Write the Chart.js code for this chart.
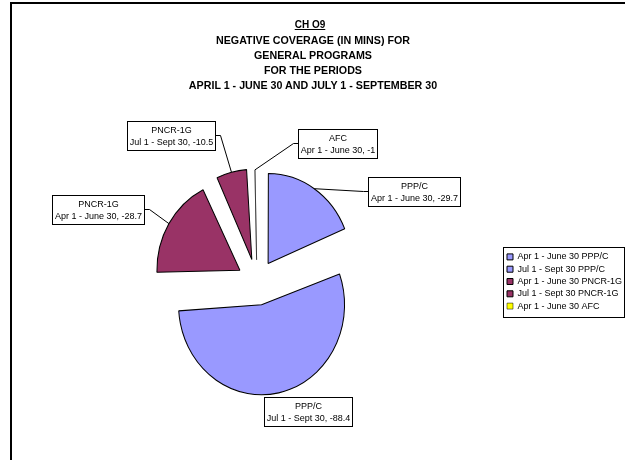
<!DOCTYPE html>
<html>
<head>
<meta charset="utf-8">
<title>CH O9</title>
<script src="https://cdn.jsdelivr.net/npm/chart.js@4.4.1/dist/chart.umd.min.js"></script>
<style>
  body { margin: 0; background: #fff; }
  #page { position: relative; width: 625px; height: 460px; overflow: hidden; }
  #page canvas { position: absolute; left: 0; top: 0; }
  .titre { position: absolute; text-align: center; color: #000;
           font-family: "Liberation Sans", Arial, sans-serif; font-weight: bold; white-space: nowrap; }
  #chId { left: 0; width: 620px; top: 18px; font-size: 10px; line-height: 13px; text-decoration: underline; }
  #sousTitre { left: 0; width: 626px; top: 32.5px; font-size: 10.7px; line-height: 15px; }
</style>
</head>
<body>
<div id="page">
  <canvas id="pieChart" width="625" height="460"></canvas>
  <div class="titre" id="chId"></div>
  <div class="titre" id="sousTitre"></div>
</div>
<script>
// values
const chartId = "CH O9";
const titleLines = [
  "NEGATIVE COVERAGE (IN MINS) FOR",
  "GENERAL PROGRAMS",
  "FOR THE PERIODS",
  "APRIL 1 - JUNE 30 AND JULY 1 - SEPTEMBER 30"
];
const programs = ["PPP/C", "PPP/C", "PNCR-1G", "PNCR-1G", "AFC"];
const periods = ["Apr 1 - June 30", "Jul 1 - Sept 30", "Apr 1 - June 30", "Jul 1 - Sept 30", "Apr 1 - June 30"];
const minutes = [-29.7, -88.4, -28.7, -10.5, -1];

// style
const sliceColors = ["#9999FF", "#9999FF", "#993366", "#993366", "#FFFF00"];
const explodePx = [20, 22, 20, 21, 20];
const stretchY = 1.084; // the original pie is a bit taller than wide
const labelFont = "'Liberation Sans', Arial, sans-serif";

// callout boxes: top-left corner and side where the leader line enters
const calloutLayout = [
  { left: 368, top: 177, side: "left" },
  { left: 264, top: 397, side: null },
  { left: 52, top: 194.5, side: "right" },
  { left: 127, top: 121, side: "right" },
  { left: 298, top: 128.5, side: "left" }
];

document.getElementById("chId").textContent = chartId;
const sous = document.getElementById("sousTitre");
titleLines.forEach(l => {
  const d = document.createElement("div");
  d.textContent = l;
  sous.appendChild(d);
});

// Chart.js shifts an arc by offset/4 (and grows its radius, undone below)
const sliceOffsets = explodePx.map(d => 4 * d);

const arcFix = arc => 1 - Math.sin(Math.min(Math.PI, arc.circumference));

const cadre = {
  id: "cadre",
  beforeDraw(chart) {
    const ctx = chart.ctx;
    ctx.save();
    ctx.fillStyle = "#fff";
    ctx.fillRect(0, 0, chart.width, chart.height);
    ctx.lineWidth = 2;
    ctx.strokeStyle = "#000";
    ctx.strokeRect(11, 3, 700, 600);
    ctx.restore();
  }
};

// keep every exploded slice at the same radius
const sameRadius = {
  id: "sameRadius",
  afterDatasetsUpdate(chart) {
    chart.getDatasetMeta(0).data.forEach(arc => {
      arc.outerRadius -= arc.options.offset / 4 * arcFix(arc);
    });
  }
};

const ellipse = {
  id: "ellipse",
  beforeDatasetsDraw(chart) {
    const arc = chart.getDatasetMeta(0).data[0];
    const ctx = chart.ctx;
    ctx.save();
    ctx.translate(arc.x, arc.y);
    ctx.scale(1, stretchY);
    ctx.translate(-arc.x, -arc.y);
  },
  afterDatasetsDraw(chart) {
    chart.ctx.restore();
  }
};

const callouts = {
  id: "callouts",
  afterDraw(chart) {
    const ctx = chart.ctx;
    const arcs = chart.getDatasetMeta(0).data;
    ctx.save();
    ctx.font = "9px " + labelFont;
    ctx.lineWidth = 1;
    ctx.strokeStyle = "#000";
    arcs.forEach((arc, i) => {
      const pos = calloutLayout[i];
      const line1 = programs[i];
      const line2 = periods[i] + ", " + minutes[i];
      const w = Math.ceil(Math.max(ctx.measureText(line1).width, ctx.measureText(line2).width)) + 4;
      const h = 29;
      const left = Math.round(pos.left) + 0.5;
      const top = Math.round(pos.top) + 0.5;
      const midY = top + 14;
      if (pos.side) {
        const mid = (arc.startAngle + arc.endAngle) / 2;
        const push = arc.options.offset / 4;
        const r = arc.outerRadius + push * arcFix(arc) + push;
        const ax = arc.x + Math.cos(mid) * r;
        const ay = arc.y + Math.sin(mid) * r * stretchY;
        const edge = pos.side === "left" ? left : left + w;
        const elbow = pos.side === "left" ? edge - 5 : edge + 5;
        ctx.beginPath();
        ctx.moveTo(ax, ay);
        ctx.lineTo(elbow, midY);
        ctx.lineTo(edge, midY);
        ctx.stroke();
      }
      ctx.fillStyle = "#fff";
      ctx.fillRect(left, top, w, h);
      ctx.strokeRect(left, top, w, h);
      ctx.fillStyle = "#000";
      ctx.textAlign = "center";
      ctx.textBaseline = "middle";
      ctx.fillText(line1, left + w / 2, top + 9);
      ctx.fillText(line2, left + w / 2, top + 21);
    });
    ctx.restore();
  }
};

const legendBox = {
  id: "legendBox",
  afterDraw(chart) {
    const boxes = chart.legend.legendHitBoxes;
    const ctx = chart.ctx;
    const left = Math.min(...boxes.map(b => b.left)) - 4;
    const top = Math.min(...boxes.map(b => b.top)) - 5;
    const right = Math.max(...boxes.map(b => b.left + b.width)) + 2;
    const bottom = Math.max(...boxes.map(b => b.top + b.height)) + 7;
    ctx.save();
    ctx.lineWidth = 1;
    ctx.strokeStyle = "#000";
    ctx.strokeRect(Math.round(left) + 0.5, Math.round(top) + 0.5, Math.round(right - left), Math.round(bottom - top));
    ctx.restore();
  }
};

new Chart(document.getElementById("pieChart"), {
  type: "pie",
  data: {
    labels: periods.map((p, i) => p + " " + programs[i]),
    datasets: [{
      data: minutes,
      backgroundColor: sliceColors,
      borderColor: "#000",
      borderWidth: [1, 1, 1, 1, 0.5],
      offset: sliceOffsets,
      hoverOffset: 0
    }]
  },
  options: {
    responsive: false,
    animation: false,
    events: [],
    radius: 83,
    layout: { padding: { left: 10.3, right: 1, top: 103, bottom: 0 } },
    plugins: {
      title: { display: false },
      tooltip: { enabled: false },
      legend: {
        position: "right",
        maxWidth: 120.3,
        labels: {
          boxWidth: 6,
          boxHeight: 6,
          padding: 3.3,
          color: "#000",
          font: { family: labelFont, size: 9 }
        }
      }
    }
  },
  plugins: [cadre, sameRadius, ellipse, callouts, legendBox]
});
</script>
</body>
</html>
